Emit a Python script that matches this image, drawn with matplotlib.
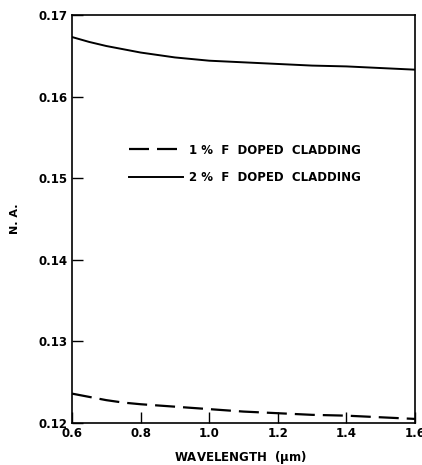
import matplotlib
matplotlib.use("Agg")
import matplotlib.pyplot as plt

wavelength = [0.6, 0.65, 0.7, 0.75, 0.8, 0.9, 1.0, 1.1, 1.2, 1.3, 1.4, 1.5, 1.6]
na_1pct = [0.1236, 0.1232, 0.1228, 0.1225, 0.1223, 0.1220, 0.1217, 0.1214, 0.1212, 0.1210, 0.1209, 0.1207, 0.1205]
na_2pct = [0.1673, 0.1667, 0.1662, 0.1658, 0.1654, 0.1648, 0.1644, 0.1642, 0.1640, 0.1638, 0.1637, 0.1635, 0.1633]
x_ticks = [0.6, 0.8, 1.0, 1.2, 1.4, 1.6]
y_ticks = [0.12, 0.13, 0.14, 0.15, 0.16, 0.17]

plt.rcParams['font.family'] = ['DejaVu Sans']
fig = plt.figure(figsize=(4.22, 4.65), dpi=100)
ax = fig.add_axes([72/422, 1-423/465, (415-72)/422, (423-15)/465])

ax.plot(wavelength, na_1pct, color='black', lw=1.6, ls=(0, (9, 3.6)), label='1 %  F  DOPED  CLADDING')
ax.plot(wavelength, na_2pct, color='black', lw=1.4, label='2 %  F  DOPED  CLADDING')

ax.set_xlim(0.6, 1.6)
ax.set_ylim(0.12, 0.17)
ax.set_xticks(x_ticks)
ax.set_xticklabels([f"{v:.1f}" for v in x_ticks])
ax.set_yticks(y_ticks)
ax.set_yticklabels([f"{v:.2f}" for v in y_ticks])
ax.tick_params(direction='in', length=8, width=1, labelsize=8.5, pad=3)
for lab in ax.get_xticklabels() + ax.get_yticklabels():
    lab.set_fontweight('bold')
for s in ax.spines.values():
    s.set_linewidth(1.2)

ax.set_xlabel('WAVELENGTH  ($\\mathbf{\\mu}$m)', fontsize=8.5, fontweight='bold', va='center')
ax.xaxis.set_label_coords(0.49, -0.085)
ax.set_ylabel('N. A.', fontsize=8, fontweight='bold', va='center')
ax.yaxis.set_label_coords(-0.166, 0.5)

leg = ax.legend(loc='upper left', bbox_to_anchor=((118-72)/343, (423-133)/408), frameon=False,
                handlelength=4.6, handletextpad=0.5, labelspacing=1.25, fontsize=8.5)
for t in leg.get_texts():
    t.set_fontweight('bold')

fig.savefig('out.png', dpi=100)
